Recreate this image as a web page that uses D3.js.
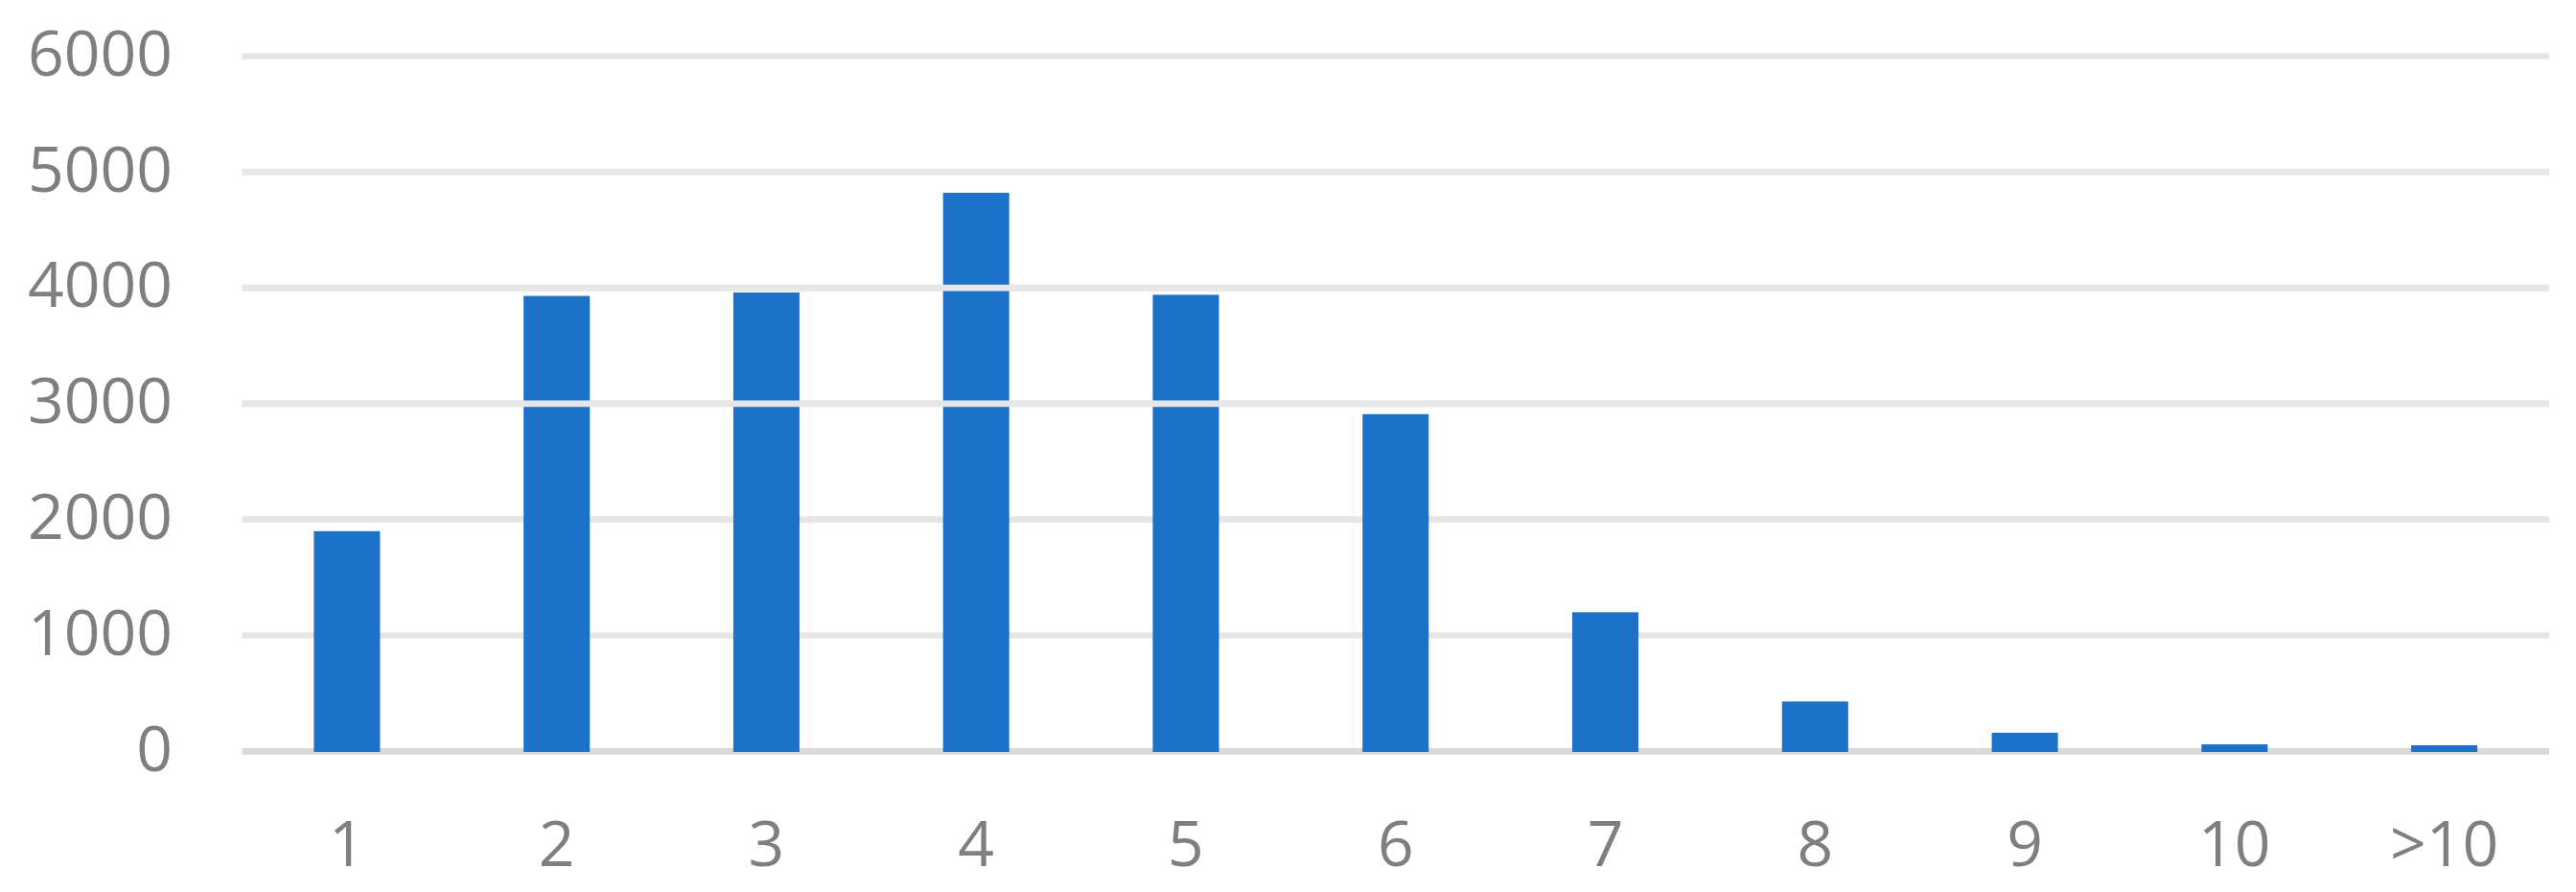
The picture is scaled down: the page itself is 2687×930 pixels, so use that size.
<!DOCTYPE html>
<html>
<head>
<meta charset="utf-8">
<script src="https://cdn.jsdelivr.net/npm/d3@7"></script>
<style>
  html, body { margin: 0; padding: 0; background: #ffffff; }
  #canvas { width: 2687px; height: 930px; }
</style>
</head>
<body>
<div id="canvas"></div>
<script>
// values
var categories = ["1", "2", "3", "4", "5", "6", "7", "8", "9", "10", ">10"];
var counts = [1900, 3930, 3960, 4820, 3940, 2910, 1200, 430, 160, 60, 52];
var yTicks = [0, 1000, 2000, 3000, 4000, 5000, 6000];

var data = categories.map(function (c, i) { return {cat: c, v: counts[i]}; });

const width = 2687, height = 930;
const plotLeft = 252.5, plotRight = 2659, plotTop = 58.5, plotBottom = 783.3;

const svg = d3.select("#canvas")
  .append("svg")
    .attr("width", width)
    .attr("height", height)
    .style("font-family", "'Open Sans', 'Noto Sans', sans-serif");

const x = d3.scaleBand()
    .domain(categories)
    .range([plotLeft, plotRight])
    .paddingInner(0.6845)
    .paddingOuter(0.6845 / 2);

const y = d3.scaleLinear()
    .domain([0, 6000])
    .range([plotBottom, plotTop]);

// gridlines (behind bars)
svg.append("g")
  .selectAll("line")
  .data(yTicks)
  .enter()
  .append("line")
    .attr("x1", plotLeft)
    .attr("x2", plotRight)
    .attr("y1", function (d) { return y(d); })
    .attr("y2", function (d) { return y(d); })
    .attr("stroke", function (d) { return d === 0 ? "#d9d9d9" : "#e6e6e6"; })
    .attr("stroke-width", 6.7);

// bars
svg.append("g")
  .selectAll("rect")
  .data(data)
  .enter()
  .append("rect")
    .attr("x", function (d) { return x(d.cat); })
    .attr("y", function (d) { return y(d.v); })
    .attr("width", x.bandwidth())
    .attr("height", function (d) { return y(0) - y(d.v) + 0.7; })
    .attr("fill", "#1b72c8");

// in the original the 3000 and 4000 gridlines sit on top of the bars
svg.append("g")
  .selectAll("line")
  .data(yTicks.filter(function (d) { return d === 3000 || d === 4000; }))
  .enter()
  .append("line")
    .attr("x1", plotLeft)
    .attr("x2", plotRight)
    .attr("y1", function (d) { return y(d); })
    .attr("y2", function (d) { return y(d); })
    .attr("stroke", "#e6e6e6")
    .attr("stroke-width", 6.7);

// Y axis labels
const yAxis = svg.append("g")
    .attr("transform", "translate(180,0)")
    .call(d3.axisLeft(y).tickValues(yTicks).tickSize(0).tickPadding(0).tickFormat(d3.format("d")));
yAxis.select(".domain").remove();
yAxis.selectAll("text")
    .attr("fill", "#7f7f7f")
    .attr("font-size", 66)
    .attr("font-family", "'Open Sans', 'Noto Sans', sans-serif")
    .attr("dy", "0.3em");

// X axis labels
const xAxis = svg.append("g")
    .attr("transform", "translate(0,855)")
    .call(d3.axisBottom(x).tickSize(0).tickPadding(0));
xAxis.select(".domain").remove();
xAxis.selectAll("text")
    .attr("fill", "#7f7f7f")
    .attr("font-size", 66)
    .attr("font-family", "'Open Sans', 'Noto Sans', sans-serif")
    .attr("dy", "0.72em");
</script>
</body>
</html>
